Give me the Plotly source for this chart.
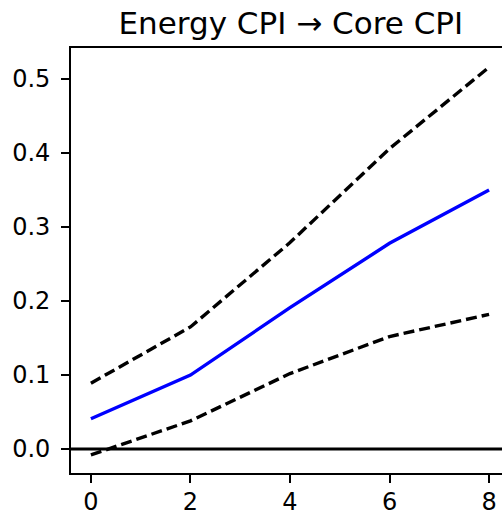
import plotly.graph_objects as go

horizon = [0, 2, 4, 6, 8]
irf = [0.041, 0.100, 0.191, 0.278, 0.350]
upper = [0.089, 0.165, 0.279, 0.406, 0.516]
lower = [-0.008, 0.038, 0.102, 0.152, 0.182]
xticks = [0, 2, 4, 6, 8]
yticks = [0.0, 0.1, 0.2, 0.3, 0.4, 0.5]

fig = go.Figure()
fig.add_trace(go.Scatter(x=horizon, y=upper, mode="lines",
                         line=dict(color="black", width=3.4, dash="11px,5px")))
fig.add_trace(go.Scatter(x=horizon, y=lower, mode="lines",
                         line=dict(color="black", width=3.4, dash="11px,5px")))
fig.add_trace(go.Scatter(x=horizon, y=irf, mode="lines",
                         line=dict(color="#0000ff", width=3.4)))
fig.add_shape(type="line", xref="paper", x0=0, x1=1, yref="y", y0=0, y1=0,
              line=dict(color="black", width=3))

fig.update_layout(
    width=502, height=513,
    margin=dict(l=71, r=0, t=48, b=40, autoexpand=False),
    paper_bgcolor="white", plot_bgcolor="white",
    showlegend=False,
    font=dict(family="DejaVu Sans", size=24, color="black"),
    title=dict(text="Energy CPI → Core CPI", x=0.51, xref="paper", xanchor="center",
               y=1 - 23 / 513, yanchor="middle", yref="container",
               font=dict(size=31, family="DejaVu Sans", color="black")),
)
fig.update_xaxes(range=[-0.4, 8.26], tickvals=xticks, ticktext=[str(v) for v in xticks],
                 showgrid=False, zeroline=False, showline=True, linecolor="black",
                 linewidth=1.7, mirror=True, ticks="outside", ticklen=8, tickwidth=1.7,
                 tickcolor="black", ticklabelstandoff=-2, automargin=False)
fig.update_yaxes(range=[-0.0324, 0.542], tickvals=yticks,
                 ticktext=["%.1f" % v for v in yticks],
                 showgrid=False, zeroline=False, showline=True, linecolor="black",
                 linewidth=1.7, mirror=False, ticks="outside", ticklen=8, tickwidth=1.7,
                 tickcolor="black", ticklabelstandoff=6, automargin=False)

fig.write_html("out.html", config={"displayModeBar": False},
               post_script="document.body.style.margin='0';document.body.style.overflow='hidden';")
